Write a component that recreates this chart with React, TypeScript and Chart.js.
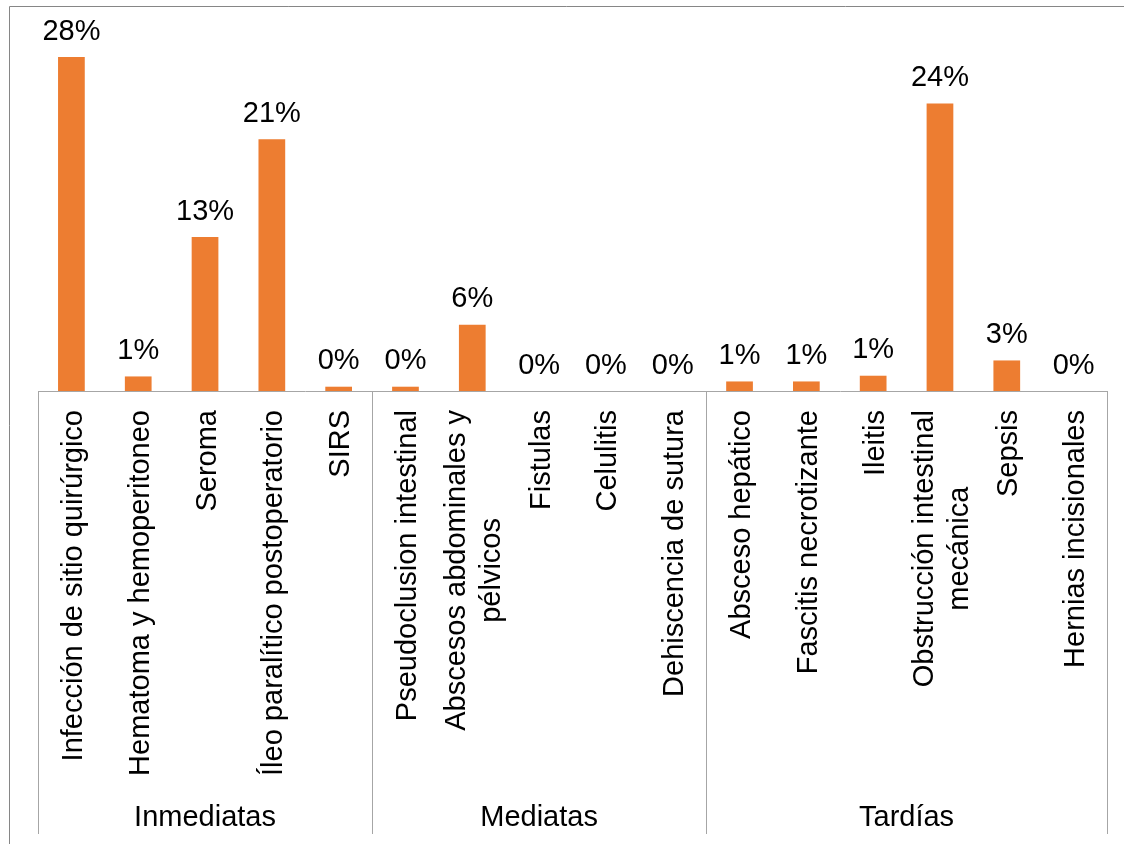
import React, { useEffect, useRef } from "react";
import { Chart, registerables } from "chart.js";

Chart.register(...registerables);

const categories: (string | string[])[] = [
  "Infección de sitio quirúrgico",
  "Hematoma y hemoperitoneo",
  "Seroma",
  "Íleo paralítico postoperatorio",
  "SIRS",
  "Pseudoclusion intestinal",
  ["Abscesos abdominales y", "pélvicos"],
  "Fistulas",
  "Celulitis",
  "Dehiscencia de sutura",
  "Absceso hepático",
  "Fascitis necrotizante",
  "Ileitis",
  ["Obstrucción intestinal", "mecánica"],
  "Sepsis",
  "Hernias incisionales",
];

const values: number[] = [
  27.98, 1.22, 12.9, 21.1, 0.36,
  0.36, 5.56, 0, 0, 0,
  0.8, 0.8, 1.28, 24.1, 2.56, 0,
];

const groups: string[] = ["Inmediatas", "Mediatas", "Tardías"];
const groupSizes: number[] = [5, 5, 6];

const FONT = '29px "Liberation Sans", Arial, sans-serif';

const overlayPlugin = {
  id: "overlay",
  afterDraw(chart: any) {
    const ctx: CanvasRenderingContext2D = chart.ctx;
    const xs = chart.scales.x;
    const area = chart.chartArea;
    const meta = chart.getDatasetMeta(0);
    ctx.save();

    // outer frame (cropped)
    ctx.strokeStyle = "#868686";
    ctx.lineWidth = 1;
    ctx.beginPath();
    ctx.moveTo(9.5, chart.height);
    ctx.lineTo(9.5, 6.5);
    ctx.lineTo(chart.width, 6.5);
    ctx.stroke();

    // group separators
    const bounds: number[] = [0];
    let acc = 0;
    groupSizes.forEach((s) => {
      acc += s;
      bounds.push(acc);
    });
    ctx.strokeStyle = "#a6a6a6";
    bounds.forEach((b) => {
      const px = Math.round(xs.getPixelForValue(b - 0.5)) + 0.5;
      ctx.beginPath();
      ctx.moveTo(px, area.bottom);
      ctx.lineTo(px, 834);
      ctx.stroke();
    });

    ctx.font = FONT;
    ctx.fillStyle = "#000";
    ctx.textBaseline = "alphabetic";
    ctx.textAlign = "center";

    // data labels
    meta.data.forEach((bar: any, i: number) => {
      ctx.fillText(Math.round(values[i]) + "%", bar.x, bar.y - 17.5);
    });

    // category labels (rotated)
    categories.forEach((c, i) => {
      const lines = Array.isArray(c) ? c : [c];
      const cx = xs.getPixelForValue(i);
      const W = Math.max(...lines.map((l) => ctx.measureText(l).width));
      const cy = area.bottom + 19 + W / 2;
      ctx.save();
      ctx.translate(cx, cy);
      ctx.rotate(-Math.PI / 2);
      lines.forEach((l, j) => {
        ctx.fillText(l, 0, 10.5 + (j - (lines.length - 1) / 2) * 35);
      });
      ctx.restore();
    });

    // group labels
    groups.forEach((g, k) => {
      const a = xs.getPixelForValue(bounds[k] - 0.5);
      const b = xs.getPixelForValue(bounds[k + 1] - 0.5);
      ctx.fillText(g, (a + b) / 2, 826);
    });

    ctx.restore();
  },
};

export default function App() {
  const ref = useRef<HTMLCanvasElement | null>(null);

  useEffect(() => {
    if (!ref.current) return;
    const chart = new Chart(ref.current, {
      type: "bar",
      data: {
        labels: categories.map((c) => (Array.isArray(c) ? c.join(" ") : c)),
        datasets: [
          {
            data: values,
            backgroundColor: "#ED7D31",
            borderWidth: 0,
            barPercentage: 0.4,
            categoryPercentage: 1,
          },
        ],
      },
      options: {
        responsive: false,
        animation: false,
        devicePixelRatio: 1,
        layout: { padding: { left: 38, right: 17, top: 33, bottom: 0 } },
        plugins: {
          legend: { display: false },
          tooltip: { enabled: false },
          title: { display: false },
        },
        scales: {
          x: {
            type: "category",
            offset: true,
            grid: { display: false },
            border: { display: true, color: "#a6a6a6", width: 1 },
            ticks: { display: false },
            afterFit: (scale: any) => {
              scale.height = 453;
            },
          },
          y: {
            display: false,
            min: 0,
            max: 30,
          },
        },
      },
      plugins: [overlayPlugin],
    });
    return () => chart.destroy();
  }, []);

  return (
    <div style={{ position: "absolute", left: 0, top: 0, width: 1124, height: 844, background: "#fff" }}>
      <canvas ref={ref} width={1124} height={844} style={{ display: "block" }} />
    </div>
  );
}
